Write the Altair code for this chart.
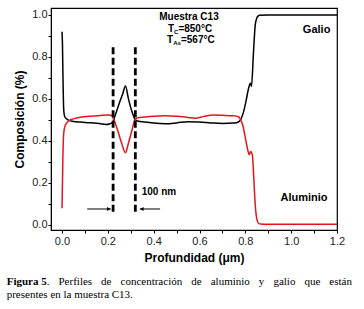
import altair as alt
import pandas as pd

# ---------------- data ----------------
depth_ga = [0.000, 0.002, 0.004, 0.006, 0.008, 0.012, 0.020, 0.030, 0.050, 0.080,
            0.110, 0.140, 0.170, 0.190, 0.210, 0.222, 0.230, 0.250, 0.265, 0.277,
            0.290, 0.305, 0.318, 0.330, 0.360, 0.400, 0.450, 0.500, 0.550, 0.600,
            0.650, 0.700, 0.750, 0.770, 0.780, 0.790, 0.803, 0.814, 0.822, 0.827,
            0.835, 0.843, 0.850, 0.856, 0.862, 0.900, 1.000, 1.100, 1.200]
galio = [0.92, 0.86, 0.72, 0.60, 0.54, 0.515, 0.505, 0.498, 0.493, 0.490,
         0.487, 0.486, 0.482, 0.478, 0.482, 0.490, 0.515, 0.580, 0.625, 0.662,
         0.600, 0.540, 0.505, 0.495, 0.490, 0.485, 0.482, 0.486, 0.492, 0.490,
         0.486, 0.483, 0.485, 0.490, 0.503, 0.530, 0.590, 0.650, 0.675, 0.660,
         0.810, 0.950, 0.985, 0.995, 0.998, 1.000, 1.000, 1.000, 1.000]

depth_al = [0.000, 0.002, 0.004, 0.006, 0.009, 0.013, 0.020, 0.030, 0.050, 0.080,
            0.120, 0.160, 0.200, 0.215, 0.225, 0.240, 0.260, 0.277, 0.290, 0.305,
            0.318, 0.330, 0.360, 0.400, 0.450, 0.500, 0.550, 0.580, 0.620, 0.660,
            0.700, 0.750, 0.770, 0.780, 0.790, 0.800, 0.810, 0.817, 0.824, 0.831,
            0.837, 0.843, 0.849, 0.856, 0.865, 0.900, 1.000, 1.100, 1.200]
aluminio = [0.08, 0.20, 0.33, 0.41, 0.45, 0.47, 0.485, 0.497, 0.505, 0.513,
            0.518, 0.520, 0.524, 0.522, 0.505, 0.460, 0.390, 0.344, 0.390, 0.450,
            0.500, 0.510, 0.514, 0.518, 0.520, 0.518, 0.512, 0.508, 0.517, 0.523,
            0.522, 0.520, 0.515, 0.500, 0.470, 0.415, 0.360, 0.335, 0.350, 0.330,
            0.220, 0.100, 0.035, 0.010, 0.004, 0.003, 0.003, 0.003, 0.003]

series_names = ["Galio", "Aluminio"]
series_colors = ["#000000", "#e3161b"]

marker_depths = [0.223, 0.320]          # dashed lines (100 nm window)
marker_low, marker_high = 0.063, 0.848

arrow_from = [0.110, 0.428]
arrow_to = [0.2125, 0.340]
arrow_level = 0.076

x_ticks = [round(i * 0.1, 1) for i in range(13)]
y_ticks = [round(i * 0.1, 1) for i in range(11)]

caption_line1 = ["Figura 5", ".", "Perfiles", "de", "concentración", "de",
                 "aluminio", "y", "galio", "que", "están"]
caption_line1_x = [6.7, 46.7, 58.5, 101.1, 120.5, 191.2, 210.7, 258.8, 273.4, 304.4, 329.3]
caption_line2 = "presentes en la muestra C13."

# ---------------- build tables ----------------
df = pd.concat([
    pd.DataFrame({"depth": depth_ga, "value": galio, "series": "Galio"}),
    pd.DataFrame({"depth": depth_al, "value": aluminio, "series": "Aluminio"}),
])

xs = alt.Scale(domain=[-0.048, 1.2], nice=False, zero=False)
ys = alt.Scale(domain=[-0.024, 1.033], nice=False, zero=False)

FONT = "Liberation Sans"
SERIF = "Liberation Serif"

x_axis = alt.Axis(values=x_ticks, title="Profundidad (μm)",
                  labelExpr="round(datum.value*10)%2==0 ? format(datum.value,'.1f') : ''",
                  tickSize=3, labelPadding=2, titlePadding=6, grid=False,
                  labelFont=FONT, labelFontSize=11, labelColor="#222",
                  titleFont=FONT, titleFontSize=12, titleFontWeight="bold", titleColor="#000",
                  domainColor="#000", tickColor="#000", labelFlush=False)
y_axis = alt.Axis(values=y_ticks, title="Composición (%)",
                  labelExpr="round(datum.value*10)%2==0 ? format(datum.value,'.1f') : ''",
                  tickSize=3, labelPadding=1, titlePadding=5, grid=False,
                  labelFont=FONT, labelFontSize=11, labelColor="#222",
                  titleFont=FONT, titleFontSize=12, titleFontWeight="bold", titleColor="#000",
                  domainColor="#000", tickColor="#000", labelFlush=False)

X = alt.X("depth:Q", scale=xs, axis=x_axis)
Y = alt.Y("value:Q", scale=ys, axis=y_axis)

lines = alt.Chart(df).mark_line(strokeWidth=1.5, interpolate="monotone").encode(
    x=X, y=Y,
    color=alt.Color("series:N", scale=alt.Scale(domain=series_names, range=series_colors), legend=None),
)

markers = alt.Chart(pd.DataFrame({"depth": marker_depths, "value": marker_low,
                                  "value2": marker_high})).mark_rule(
    strokeDash=[7, 3.5], strokeWidth=2.8, color="black"
).encode(x=X, y=Y, y2="value2:Q")

arrows = alt.Chart(pd.DataFrame({"depth": arrow_from, "depth2": arrow_to,
                                 "value": arrow_level})).mark_rule(
    strokeWidth=1, color="black"
).encode(x=X, x2="depth2:Q", y=Y)

heads = alt.Chart(pd.DataFrame({"depth": [arrow_to[0] - 0.008, arrow_to[1] + 0.008],
                                "value": arrow_level,
                                "shape": ["triangle-right", "triangle-left"]})).mark_point(
    filled=True, size=18, color="black", opacity=1
).encode(x=X, y=Y, shape=alt.Shape("shape:N", scale=None))


def label(text, x, y, size=10, align="left", dx=0, dy=0, weight="bold"):
    return alt.Chart(pd.DataFrame({"depth": [x], "value": [y]})).mark_text(
        text=text, font=FONT, fontSize=size, fontWeight=weight, align=align,
        baseline="middle", dx=dx, dy=dy, color="black"
    ).encode(x=X, y=Y)


annots = [
    label("Muestra C13", 0.554, 0.99, size=10, align="center"),
    label("T", 0.462, 0.933),
    label("C", 0.462, 0.933, size=6, dx=6.2, dy=3),
    label("=850°C", 0.462, 0.933, dx=10.5),
    label("T", 0.458, 0.879),
    label("As", 0.458, 0.879, size=6, dx=6.2, dy=3),
    label("=567°C", 0.458, 0.879, dx=14),
    label("Galio", 1.111, 0.929, size=11, align="center"),
    label("Aluminio", 1.056, 0.13, size=11, align="center"),
    label("100 nm", 0.348, 0.157, size=10),
]

caption = []
for i, (w, px) in enumerate(zip(caption_line1, caption_line1_x)):
    caption.append(alt.Chart(pd.DataFrame({"a": [0]})).mark_text(
        font=SERIF, fontSize=11, fontWeight="bold" if i == 0 else "normal",
        align="left", baseline="middle", color="black"
    ).encode(text=alt.value(w), x=alt.value(px - 51), y=alt.value(274)))
caption.append(alt.Chart(pd.DataFrame({"a": [0]})).mark_text(
    font=SERIF, fontSize=11, align="left", baseline="middle", color="black"
).encode(text=alt.value(caption_line2), x=alt.value(6.7 - 51), y=alt.value(287)))

chart = alt.layer(lines, markers, arrows, heads, *annots, *caption).properties(
    width=286, height=222,
    autosize=alt.AutoSizeParams(type="none"),
    padding={"left": 51, "top": 8, "right": 27, "bottom": 79},
    background="white",
).configure_view(stroke="black", strokeWidth=1.2)

chart.save("out.html", embed_options={"renderer": "svg", "actions": False})
